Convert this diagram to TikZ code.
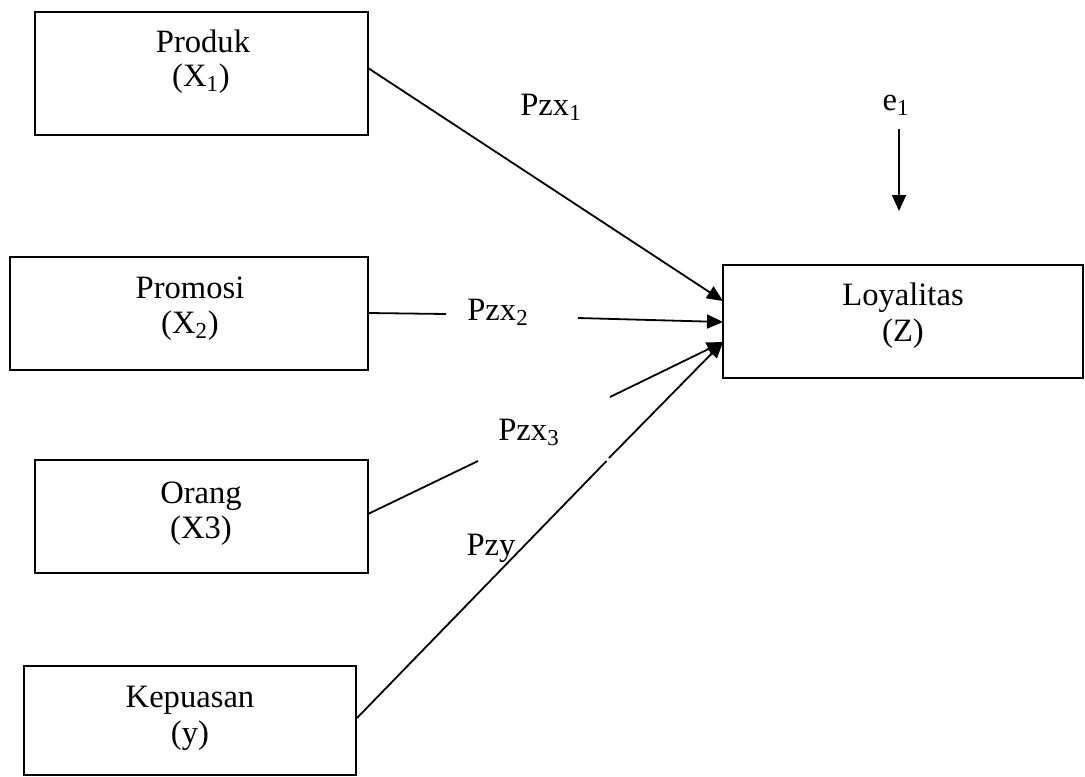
\documentclass[tikz,border=0pt]{standalone}
\usepackage{fontspec}
\setmainfont{Liberation Serif}
\usetikzlibrary{arrows.meta}
\begin{document}
\begin{tikzpicture}[x=0.5pt,y=-0.5pt,
  box/.style={draw,line width=0.9pt,inner sep=0pt},
  lbl/.style={font=\fontsize{16.3}{17}\selectfont,inner sep=0pt,anchor=base},
  conn/.style={line width=0.9pt},
  arr/.style={line width=0.9pt,-{Triangle[length=8pt,width=7pt]}}]
\useasboundingbox (0,0) rectangle (1085,776);
% boxes
\node[box,minimum width=166.5pt,minimum height=61.5pt] (produk) at (201.5,73.5) {};
\node[box,minimum width=179pt,minimum height=56.5pt] (promosi) at (189,313.5) {};
\node[box,minimum width=166.5pt,minimum height=56.5pt] (orang) at (201.5,516.5) {};
\node[box,minimum width=166pt,minimum height=54.5pt] (kepuasan) at (190,720.5) {};
\node[box,minimum width=180pt,minimum height=56.5pt] (loy) at (903,321.5) {};
% box texts
\node[lbl] (tprod1) at (203,52) {Produk};
\node[lbl] (tprod2) at (201,86) {(X\textsubscript{1})};
\node[lbl] (tprom1) at (190,298) {Promosi};
\node[lbl] (tprom2) at (190,333) {(X\textsubscript{2})};
\node[lbl] (torang1) at (201,503) {Orang};
\node[lbl] (torang2) at (201,538) {(X3)};
\node[lbl] (tkep1) at (190,707) {Kepuasan};
\node[lbl] (tkep2) at (190,743) {(y)};
\node[lbl] (tloy1) at (903,305) {Loyalitas};
\node[lbl] (tloy2) at (903,341) {(Z)};
% path labels
\node[lbl] (p1) at (551,115) {Pzx\textsubscript{1}};
\node[lbl] (p2) at (498,320) {Pzx\textsubscript{2}};
\node[lbl] (p3) at (529,440) {Pzx\textsubscript{3}};
\node[lbl] (py) at (491,555) {Pzy};
\node[lbl] (e1) at (896,110) {e\textsubscript{1}};
% coordinates
\coordinate (a1s) at (368,68);
\coordinate (a1e) at (723,301);
\coordinate (a2s) at (368,313);
\coordinate (a2m) at (446,314);
\coordinate (a2n) at (578,318);
\coordinate (a2e) at (723,322);
\coordinate (a3s) at (368,514);
\coordinate (a3m) at (478,461);
\coordinate (a3n) at (610,397);
\coordinate (a3e) at (723,342);
\coordinate (a4s) at (357,718);
\coordinate (a4m) at (606.5,461);
\coordinate (a4n) at (609,458);
\coordinate (a4e) at (723,342);
\coordinate (e1s) at (899,129);
\coordinate (e1e) at (899,211);
% connectors
\draw[arr] (a1s) -- (a1e);
\draw[conn] (a2s) -- (a2m);
\draw[arr] (a2n) -- (a2e);
\draw[conn] (a3s) -- (a3m);
\draw[arr] (a3n) -- (a3e);
\draw[conn] (a4s) -- (a4m);
\draw[arr] (a4n) -- (a4e);
\draw[arr] (e1s) -- (e1e);
\end{tikzpicture}
\end{document}
